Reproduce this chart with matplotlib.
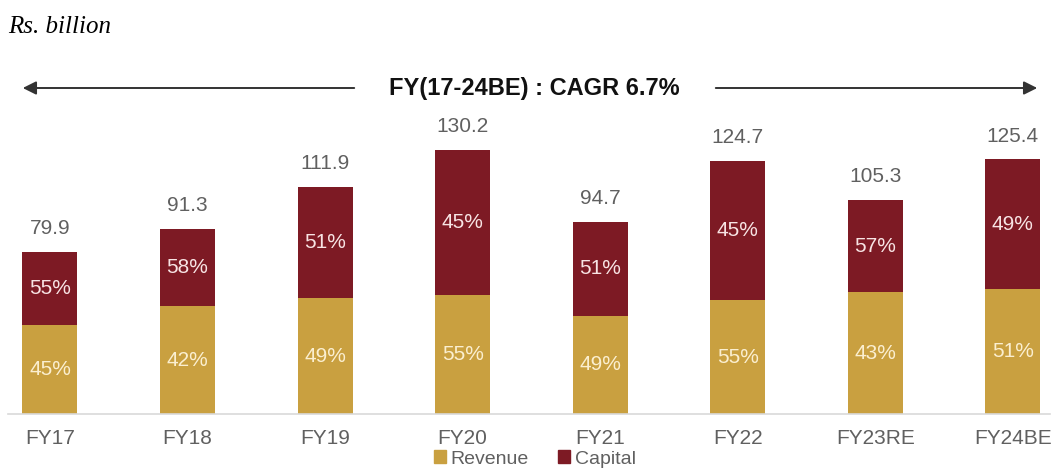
import numpy as np
import matplotlib
matplotlib.use('Agg')
import matplotlib.pyplot as plt
from matplotlib.patches import Patch

plt.rcParams['font.family'] = ['Liberation Sans', 'DejaVu Sans']

years = ['FY17', 'FY18', 'FY19', 'FY20', 'FY21', 'FY22', 'FY23RE', 'FY24BE']
totals = [79.9, 91.3, 111.9, 130.2, 94.7, 124.7, 105.3, 125.4]
# lower (gold) segment height as drawn in the source, Rs. billion
lower_seg = [43.9, 53.0, 57.1, 58.6, 48.3, 56.1, 60.0, 61.4]
revenue_pct = ['45%', '42%', '49%', '55%', '49%', '55%', '43%', '51%']
capital_pct = ['55%', '58%', '51%', '45%', '51%', '45%', '57%', '49%']

GOLD = '#C9A040'
MAROON = '#7D1A24'
GREY = '#606060'

upper_seg = [t - l for t, l in zip(totals, lower_seg)]
x = np.arange(len(years))

fig = plt.figure(figsize=(10.55, 4.7), dpi=100)
ax = fig.add_axes([8/1055, 56/470, 1042/1055, 314/470])
ax.bar(x, lower_seg, width=0.4, color=GOLD, zorder=2)
ax.bar(x, upper_seg, width=0.4, bottom=lower_seg, color=MAROON, zorder=2)

for i in range(len(years)):
    ax.text(x[i], lower_seg[i]/2, revenue_pct[i], ha='center', va='center',
            color='#FBEFD0', fontsize=15)
    ax.text(x[i], lower_seg[i] + upper_seg[i]/2, capital_pct[i], ha='center', va='center',
            color='#F8E4E4', fontsize=15)
    ax.text(x[i], totals[i] + 11.5, f'{totals[i]:.1f}', ha='center', va='center',
            color=GREY, fontsize=15)

ax.set_xlim(-0.305, 7.27)
ax.set_ylim(0, 154.7)
ax.set_yticks([])
ax.set_xticks(x)
ax.set_xticklabels(years, color=GREY, fontsize=15)
ax.tick_params(axis='x', length=0, pad=11)
for s in ['top', 'right', 'left']:
    ax.spines[s].set_visible(False)
ax.spines['bottom'].set_color('#D9D9D9')
ax.spines['bottom'].set_linewidth(1.2)

# CAGR arrows and title
fig.text(8/1055, 1 - 27/470, 'Rs. billion', family='Liberation Serif', style='italic',
         fontsize=18, va='center', ha='left')
ya = 1 - 88/470
ax.annotate('', xy=(20/1055, ya), xytext=(357/1055, ya), xycoords='figure fraction',
            arrowprops=dict(arrowstyle='-|>', color='#333333', lw=1.4, mutation_scale=20))
ax.annotate('', xy=(1040/1055, ya), xytext=(713/1055, ya), xycoords='figure fraction',
            arrowprops=dict(arrowstyle='-|>', color='#333333', lw=1.4, mutation_scale=20))
fig.text(534/1055, ya, 'FY(17-24BE) : CAGR 6.7%', ha='center', va='center',
         fontsize=17, fontweight='bold', color='#111111')

handles = [Patch(color=GOLD, label='Revenue'), Patch(color=MAROON, label='Capital')]
fig.legend(handles=handles, loc='center', bbox_to_anchor=(535/1055, 1 - 459/470),
           ncol=2, frameon=False, fontsize=14, handlelength=0.6, handleheight=0.6,
           handletextpad=0.25, columnspacing=1.5, labelcolor=GREY, borderpad=0.1)

fig.savefig('out.png', dpi=100)
